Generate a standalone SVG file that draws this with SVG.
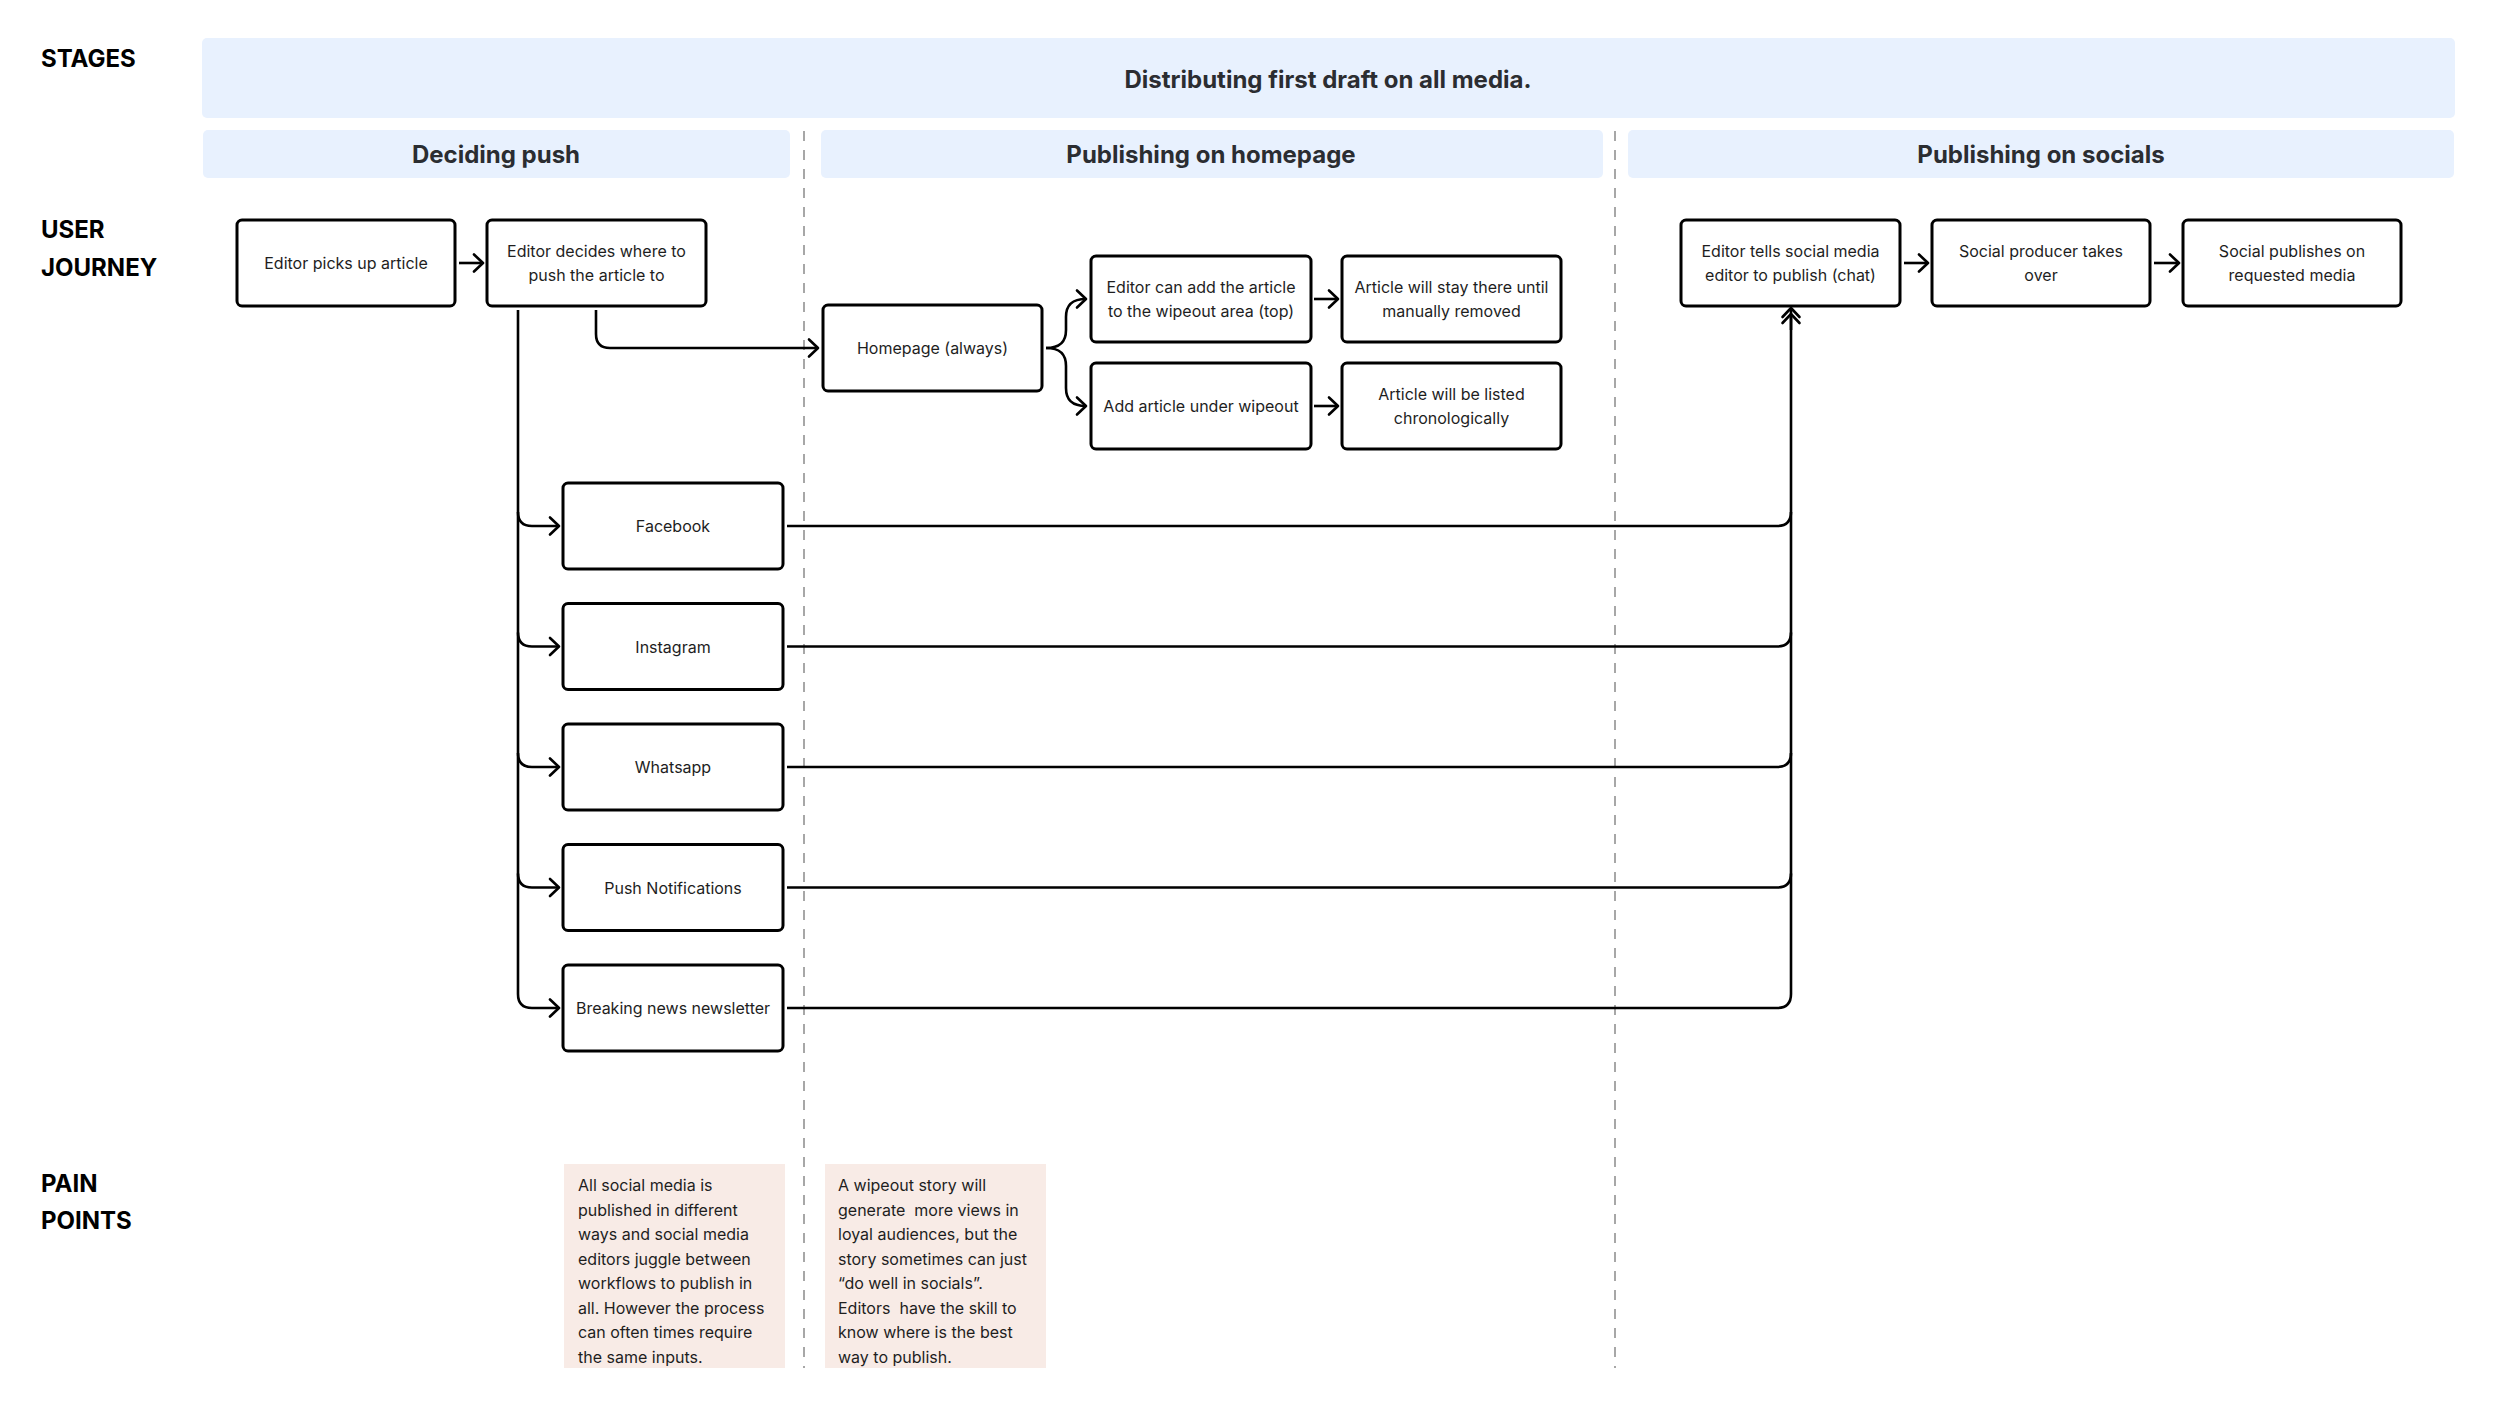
<svg xmlns="http://www.w3.org/2000/svg" width="2500" height="1406" viewBox="0 0 2500 1406">
<style>
.bg{fill:#ffffff}
.band{fill:#E8F1FE}
.stage{font-family:Inter,'Liberation Sans',sans-serif;font-weight:700;font-size:24px;fill:#2b2d31;text-anchor:middle}
.row{font-family:Inter,'Liberation Sans',sans-serif;font-weight:700;font-size:24px;fill:#000}
.box{fill:#fff;stroke:#000;stroke-width:3}
.lbl{font-family:Inter,'Liberation Sans',sans-serif;font-size:16px;fill:#1e1e1e;text-anchor:middle}
.pain{fill:#F8EBE6}
.ptxt{font-family:Inter,'Liberation Sans',sans-serif;font-size:16px;fill:#1e1e1e}
.dash{stroke:#8a8a8a;stroke-width:1.5;stroke-dasharray:10 9;fill:none}
.con{fill:none;stroke:#000;stroke-width:2.6;stroke-linecap:butt;stroke-linejoin:round}
</style>
<defs>
<marker id="arr" viewBox="-12 -11 14 22" markerWidth="14" markerHeight="22" refX="0" refY="0" orient="auto" markerUnits="userSpaceOnUse">
<path d="M-9,-8.5 L0,0 L-9,8.5" fill="none" stroke="#000" stroke-width="2.6" stroke-linecap="round" stroke-linejoin="round"/>
</marker>
</defs>
<rect class="bg" x="0" y="0" width="2500" height="1406"/>

<g id="labels">
<text class="row" x="41" y="67">STAGES</text>
<text class="row" x="41" y="238">USER</text>
<text class="row" x="41" y="276">JOURNEY</text>
<text class="row" x="41" y="1192">PAIN</text>
<text class="row" x="41" y="1229">POINTS</text>
</g>

<g id="stages">
<rect class="band" x="202" y="38" width="2253" height="80" rx="5"/>
<text class="stage" x="1328" y="88">Distributing first draft on all media.</text>
<rect class="band" x="203" y="130" width="587" height="48" rx="5"/>
<text class="stage" x="496" y="163">Deciding push</text>
<rect class="band" x="821" y="130" width="782" height="48" rx="5"/>
<text class="stage" x="1211" y="163">Publishing on homepage</text>
<rect class="band" x="1628" y="130" width="826" height="48" rx="5"/>
<text class="stage" x="2041" y="163">Publishing on socials</text>
</g>

<g id="dividers">
<line class="dash" x1="804" y1="131" x2="804" y2="1368"/>
<line class="dash" x1="1615" y1="131" x2="1615" y2="1368"/>
</g>

<g id="connectors">
<path class="con" d="M459 263 H483" marker-end="url(#arr)"/>
<path class="con" d="M596 310 V334 Q596 348 610 348 H818" marker-end="url(#arr)"/>
<path class="con" d="M518 310 V994 Q518 1008 532 1008 H559" marker-end="url(#arr)"/>
<path class="con" d="M518 512 Q518 526 532 526 H559" marker-end="url(#arr)"/>
<path class="con" d="M518 632.5 Q518 646.5 532 646.5 H559" marker-end="url(#arr)"/>
<path class="con" d="M518 753 Q518 767 532 767 H559" marker-end="url(#arr)"/>
<path class="con" d="M518 873.5 Q518 887.5 532 887.5 H559" marker-end="url(#arr)"/>
<path class="con" d="M1046 348 C1060 348 1066 342 1066 330 V317 C1066 305 1072 299 1086 299" marker-end="url(#arr)"/>
<path class="con" d="M1046 348 C1060 348 1066 354 1066 366 V388 C1066 400 1072 406 1086 406" marker-end="url(#arr)"/>
<path class="con" d="M1314 299 H1338" marker-end="url(#arr)"/>
<path class="con" d="M1314 406 H1338" marker-end="url(#arr)"/>
<path class="con" d="M1904 263 H1928" marker-end="url(#arr)"/>
<path class="con" d="M2154 263 H2179" marker-end="url(#arr)"/>
<path class="con" d="M787 1008 H1777 Q1791 1008 1791 994 V308" marker-end="url(#arr)"/>
<path class="con" d="M787 526 H1777 Q1791 526 1791 512"/>
<path class="con" d="M787 646.5 H1777 Q1791 646.5 1791 632.5"/>
<path class="con" d="M787 767 H1777 Q1791 767 1791 753"/>
<path class="con" d="M787 887.5 H1777 Q1791 887.5 1791 873.5"/>
<path class="con" d="M1791 330 V314" marker-end="url(#arr)"/>
</g>

<g id="n-picks">
<rect class="box" x="237" y="220" width="218" height="86" rx="5"/>
<text class="lbl" x="346" y="269">Editor picks up article</text>
</g>
<g id="n-decides">
<rect class="box" x="487" y="220" width="219" height="86" rx="5"/>
<text class="lbl" x="596.5" y="257">Editor decides where to</text>
<text class="lbl" x="596.5" y="281">push the article to</text>
</g>
<g id="n-homepage">
<rect class="box" x="823" y="305" width="219" height="86" rx="5"/>
<text class="lbl" x="932.5" y="354">Homepage (always)</text>
</g>
<g id="n-wipeout">
<rect class="box" x="1091" y="256" width="220" height="86" rx="5"/>
<text class="lbl" x="1201" y="293">Editor can add the article</text>
<text class="lbl" x="1201" y="317">to the wipeout area (top)</text>
</g>
<g id="n-stay">
<rect class="box" x="1342" y="256" width="219" height="86" rx="5"/>
<text class="lbl" x="1451.5" y="293">Article will stay there until</text>
<text class="lbl" x="1451.5" y="317">manually removed</text>
</g>
<g id="n-under">
<rect class="box" x="1091" y="363" width="220" height="86" rx="5"/>
<text class="lbl" x="1201" y="412">Add article under wipeout</text>
</g>
<g id="n-listed">
<rect class="box" x="1342" y="363" width="219" height="86" rx="5"/>
<text class="lbl" x="1451.5" y="400">Article will be listed</text>
<text class="lbl" x="1451.5" y="424">chronologically</text>
</g>
<g id="n-tells">
<rect class="box" x="1681" y="220" width="219" height="86" rx="5"/>
<text class="lbl" x="1790.5" y="257">Editor tells social media</text>
<text class="lbl" x="1790.5" y="281">editor to publish (chat)</text>
</g>
<g id="n-producer">
<rect class="box" x="1932" y="220" width="218" height="86" rx="5"/>
<text class="lbl" x="2041" y="257">Social producer takes</text>
<text class="lbl" x="2041" y="281">over</text>
</g>
<g id="n-publishes">
<rect class="box" x="2183" y="220" width="218" height="86" rx="5"/>
<text class="lbl" x="2292" y="257">Social publishes on</text>
<text class="lbl" x="2292" y="281">requested media</text>
</g>
<g id="n-facebook">
<rect class="box" x="563" y="483" width="220" height="86" rx="5"/>
<text class="lbl" x="673" y="532">Facebook</text>
</g>
<g id="n-instagram">
<rect class="box" x="563" y="603.5" width="220" height="86" rx="5"/>
<text class="lbl" x="673" y="652.5">Instagram</text>
</g>
<g id="n-whatsapp">
<rect class="box" x="563" y="724" width="220" height="86" rx="5"/>
<text class="lbl" x="673" y="773">Whatsapp</text>
</g>
<g id="n-push">
<rect class="box" x="563" y="844.5" width="220" height="86" rx="5"/>
<text class="lbl" x="673" y="893.5">Push Notifications</text>
</g>
<g id="n-newsletter">
<rect class="box" x="563" y="965" width="220" height="86" rx="5"/>
<text class="lbl" x="673" y="1014">Breaking news newsletter</text>
</g>

<g id="pain-1">
<rect class="pain" x="564" y="1164" width="221" height="204"/>
<text class="ptxt" x="578" y="1191">All social media is</text>
<text class="ptxt" x="578" y="1215.5">published in different</text>
<text class="ptxt" x="578" y="1240">ways and social media</text>
<text class="ptxt" x="578" y="1264.5">editors juggle between</text>
<text class="ptxt" x="578" y="1289">workflows to publish in</text>
<text class="ptxt" x="578" y="1313.5">all. However the process</text>
<text class="ptxt" x="578" y="1338">can often times require</text>
<text class="ptxt" x="578" y="1362.5">the same inputs.</text>
</g>
<g id="pain-2">
<rect class="pain" x="825" y="1164" width="221" height="204"/>
<text class="ptxt" x="838" y="1191">A wipeout story will</text>
<text class="ptxt" x="838" y="1215.5" xml:space="preserve">generate  more views in</text>
<text class="ptxt" x="838" y="1240">loyal audiences, but the</text>
<text class="ptxt" x="838" y="1264.5">story sometimes can just</text>
<text class="ptxt" x="838" y="1289">“do well in socials”.</text>
<text class="ptxt" x="838" y="1313.5" xml:space="preserve">Editors  have the skill to</text>
<text class="ptxt" x="838" y="1338">know where is the best</text>
<text class="ptxt" x="838" y="1362.5">way to publish.</text>
</g>
</svg>
